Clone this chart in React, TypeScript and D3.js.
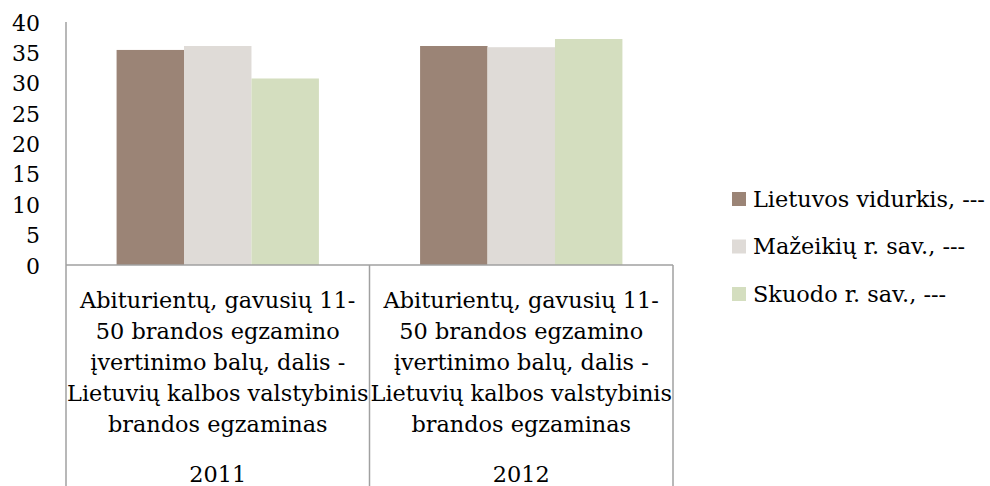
import React, { useEffect, useRef } from 'react';
import * as d3 from 'd3';

const categories = ['2011', '2012'];
const categoryLines = [
  'Abiturientų, gavusių 11-',
  '50 brandos egzamino',
  'įvertinimo balų, dalis -',
  'Lietuvių kalbos valstybinis',
  'brandos egzaminas'
];
const seriesNames = ['Lietuvos vidurkis, ---', 'Mažeikių r. sav., ---', 'Skuodo r. sav., ---'];
const lietuvos = [35.4, 36.05];
const mazeikiu = [36.05, 35.85];
const skuodo = [30.7, 37.2];
const seriesColors = ['#9b8476', '#dfdbd7', '#d4debf'];
const yTicks = [0, 5, 10, 15, 20, 25, 30, 35, 40];

const FONT = '"DejaVu Serif", serif';

const App = () => {
  const ref = useRef<SVGSVGElement | null>(null);

  useEffect(() => {
    if (!ref.current) return;
    const width = 990;
    const height = 486;
    const plot = { left: 66, right: 673, top: 22, bottom: 265 };

    const svg = d3.select(ref.current);
    svg.selectAll('*').remove();
    svg.attr('width', width).attr('height', height);

    const values = [lietuvos, mazeikiu, skuodo];
    const data = categories.map((c, i) => ({
      category: c,
      items: seriesNames.map((s, j) => ({ series: s, value: values[j][i], color: seriesColors[j] }))
    }));

    const x0 = d3.scaleBand().domain(categories).range([plot.left, plot.right]).padding(0);
    const x1 = d3.scaleBand().domain(seriesNames).range([0, x0.bandwidth()])
      .paddingInner(0).paddingOuter(0.75);
    const y = d3.scaleLinear().domain([0, 40]).range([plot.bottom, plot.top]);

    // bars
    const groups = svg.append('g').selectAll('g')
      .data(data)
      .enter()
      .append('g')
      .attr('transform', d => `translate(${x0(d.category)},0)`);

    groups.selectAll('rect')
      .data(d => d.items)
      .enter()
      .append('rect')
      .attr('x', d => x1(d.series)!)
      .attr('y', d => y(d.value))
      .attr('width', x1.bandwidth())
      .attr('height', d => y(0) - y(d.value))
      .attr('fill', d => d.color);

    // y tick labels
    svg.append('g').selectAll('text')
      .data(yTicks)
      .enter()
      .append('text')
      .attr('x', 40)
      .attr('y', d => y(d) + 8.5)
      .attr('text-anchor', 'end')
      .attr('font-family', FONT)
      .attr('font-size', 22)
      .attr('fill', '#000')
      .text(d => d);

    const axisColor = '#a0a0a0';
    // y axis line
    svg.append('line')
      .attr('x1', plot.left).attr('x2', plot.left)
      .attr('y1', plot.top).attr('y2', height)
      .attr('stroke', axisColor).attr('stroke-width', 1.5);

    // baseline
    svg.append('line')
      .attr('x1', plot.left).attr('x2', plot.right)
      .attr('y1', y(0)).attr('y2', y(0))
      .attr('stroke', axisColor).attr('stroke-width', 1.5);

    // category dividers
    svg.append('g').selectAll('line')
      .data(categories)
      .enter()
      .append('line')
      .attr('x1', d => x0(d)! + x0.bandwidth())
      .attr('x2', d => x0(d)! + x0.bandwidth())
      .attr('y1', y(0)).attr('y2', height)
      .attr('stroke', axisColor).attr('stroke-width', 1.5);

    // category labels
    const labels = svg.append('g').selectAll('g')
      .data(categories)
      .enter()
      .append('g')
      .attr('transform', d => `translate(${x0(d)! + x0.bandwidth() / 2},0)`);

    labels.selectAll('text.line')
      .data(categoryLines)
      .enter()
      .append('text')
      .attr('class', 'line')
      .attr('x', 0)
      .attr('y', (d, i) => 307.5 + i * 31)
      .attr('text-anchor', 'middle')
      .attr('font-family', FONT)
      .attr('font-size', 22.4)
      .text(d => d);

    labels.append('text')
      .attr('x', 0)
      .attr('y', 482)
      .attr('text-anchor', 'middle')
      .attr('font-family', FONT)
      .attr('font-size', 22.4)
      .text(d => d);

    // legend
    const legend = svg.append('g').selectAll('g')
      .data(seriesNames)
      .enter()
      .append('g')
      .attr('transform', (d, i) => `translate(732,${199 + i * 47.5})`);

    legend.append('rect')
      .attr('x', 0).attr('y', -7)
      .attr('width', 14).attr('height', 14)
      .attr('fill', (d, i) => seriesColors[i]);

    legend.append('text')
      .attr('x', 21)
      .attr('y', 7.7)
      .attr('font-family', FONT)
      .attr('font-size', 22.4)
      .text(d => d);
  }, []);

  return (
    <div style={{ position: 'absolute', left: 0, top: 0 }}>
      <svg ref={ref} style={{ display: 'block' }} />
    </div>
  );
};

export default App;
